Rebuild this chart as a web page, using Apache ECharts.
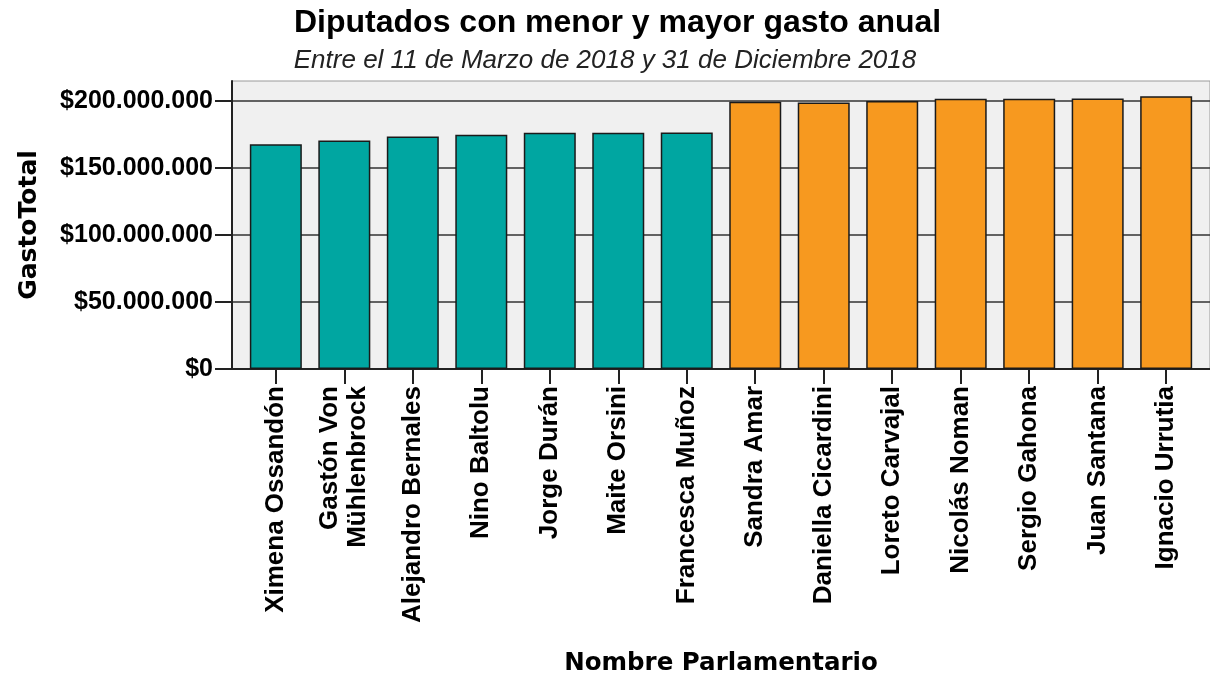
<!DOCTYPE html>
<html>
<head>
<meta charset="utf-8">
<script src="https://cdn.jsdelivr.net/npm/echarts@6/dist/echarts.min.js"></script>
<style>
    html, body { margin: 0; padding: 0; background: #fff; }
    #chart { width: 1210px; height: 677px; }
</style>
</head>
<body>
<div id="chart"></div>
<script>
    // nombres y gasto total (pesos)
    var nombres = ['Ximena Ossandón', 'Gastón Von\nMühlenbrock', 'Alejandro Bernales', 'Nino Baltolu',
        'Jorge Durán', 'Maite Orsini', 'Francesca Muñoz', 'Sandra Amar', 'Daniella Cicardini',
        'Loreto Carvajal', 'Nicolás Noman', 'Sergio Gahona', 'Juan Santana', 'Ignacio Urrutia']
    var gastoTotal = [167700000, 170600000, 173600000, 174900000, 176400000, 176400000, 176600000,
        199500000, 199000000, 200000000, 201700000, 201700000, 201900000, 203700000]
    // 0 = menor gasto, 1 = mayor gasto
    var grupo = [0, 0, 0, 0, 0, 0, 0, 1, 1, 1, 1, 1, 1, 1]
    var yTicks = [0, 50000000, 100000000, 150000000, 200000000]

    var colores = ['#00a6a1', '#f7991f']
    var posiciones = nombres.map(function (n, i) { return i })

    function pesos (v) {
        return '$' + String(v).replace(/\B(?=(\d{3})+(?!\d))/g, '.')
    }

    var myChart = echarts.init(document.getElementById('chart'))
    var data = gastoTotal.map(function (v, i) {
        return {
            value: [i, v],
            itemStyle: { color: colores[grupo[i]] }
        }
    })

    myChart.setOption({
        animation: false,
        title: [{
            text: 'Diputados con menor y mayor gasto anual',
            left: 289,
            top: 2,
            textStyle: { fontFamily: 'Liberation Sans', fontWeight: 'bold', fontSize: 32, color: '#000' }
        }, {
            text: 'Entre el 11 de Marzo de 2018 y 31 de Diciembre 2018',
            left: 'center',
            top: 43,
            textStyle: { fontFamily: 'Liberation Sans', fontStyle: 'italic', fontWeight: 'normal', fontSize: 26, color: '#222' }
        }],
        grid: {
            left: 232, top: 81, right: -5, bottom: 308,
            show: true,
            backgroundColor: '#f0f0f0',
            borderColor: '#9a9a9a',
            borderWidth: 1
        },
        xAxis: {
            type: 'value',
            min: -0.64,
            max: 13.64,
            name: 'Nombre Parlamentario',
            nameLocation: 'middle',
            nameGap: 282,
            nameTextStyle: { fontFamily: 'DejaVu Sans', fontWeight: 'bold', fontSize: 24.5, color: '#000' },
            axisLine: { onZero: false, lineStyle: { color: '#222', width: 2 } },
            axisTick: { show: true, length: 15, customValues: posiciones, lineStyle: { color: '#222', width: 2 } },
            axisLabel: {
                customValues: posiciones,
                rotate: 90,
                margin: 17,
                fontFamily: 'Liberation Sans',
                fontWeight: 'bold',
                fontSize: 26,
                lineHeight: 28,
                color: '#000',
                formatter: function (v) { return nombres[Math.round(v)] }
            },
            splitLine: { show: false }
        },
        yAxis: {
            type: 'value',
            min: 0,
            max: 215000000,
            name: 'GastoTotal',
            nameLocation: 'middle',
            nameGap: 190,
            nameTextStyle: { fontFamily: 'DejaVu Sans', fontWeight: 'bold', fontSize: 25, color: '#000' },
            axisLine: { show: true, onZero: false, lineStyle: { color: '#222', width: 2 } },
            axisTick: { show: true, length: 17, customValues: yTicks, lineStyle: { color: '#222', width: 2 } },
            axisLabel: {
                customValues: yTicks,
                margin: 19,
                fontFamily: 'Liberation Sans',
                fontWeight: 'bold',
                fontSize: 25,
                color: '#000',
                formatter: pesos
            },
            splitLine: { show: true, lineStyle: { color: '#333', width: 1.5 } }
        },
        series: [{
            type: 'bar',
            data: data,
            barWidth: 52,
            itemStyle: { borderColor: '#1a1a1a', borderWidth: 1.5 }
        }]
    })
    window.onresize = myChart.resize
</script>
</body>
</html>
